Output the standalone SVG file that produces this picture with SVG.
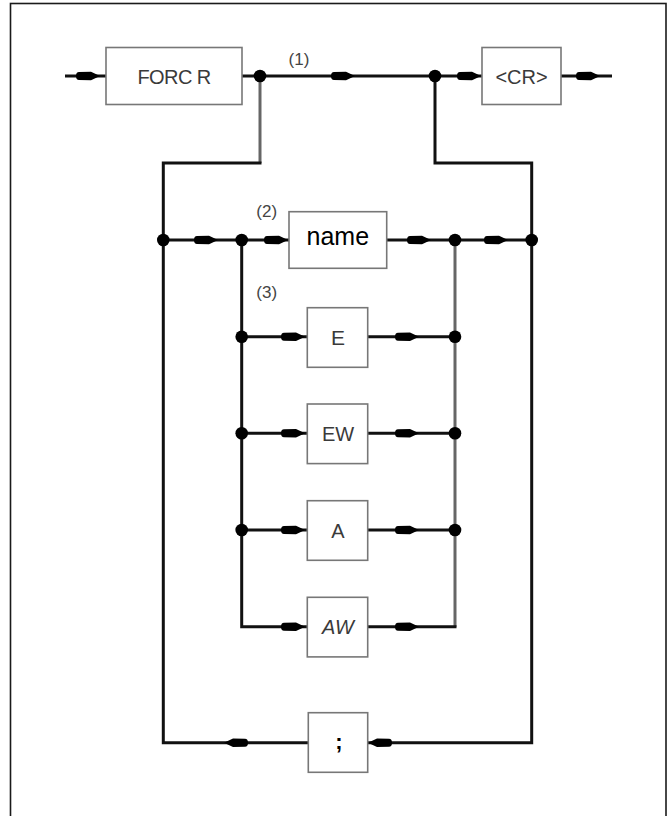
<svg xmlns="http://www.w3.org/2000/svg" xmlns:xlink="http://www.w3.org/1999/xlink" width="668" height="816" viewBox="0 0 668 816">
<style>
.frame{fill:none;stroke:#1a1a1a;stroke-width:1.6}
.box{fill:#fff;stroke:#777;stroke-width:1.6}
.ln{fill:none;stroke:#111;stroke-width:3}
.lg{fill:none;stroke:#666;stroke-width:3}
.dot{fill:#000}
.ah{fill:#000}
.t{font-family:"Liberation Sans",Arial,sans-serif;text-anchor:middle;fill:#3a3a3a}
.tb{font-family:"Liberation Sans",Arial,sans-serif;text-anchor:middle;fill:#000}
.lbl{font-family:"Liberation Sans",Arial,sans-serif;text-anchor:middle;fill:#444;font-size:17px}
</style>
<defs>
<path id="ah" d="M0,0 L-9,-4.2 L-21,-4 Q-24,-4 -24,0 Q-24,4 -21,4 L-9,4.2 Z"/>
</defs>
<rect class="frame" x="10.5" y="3.5" width="655.5" height="830"/>

<g id="connectors">
<!-- top row -->
<path class="ln" d="M65,76 H106"/>
<path class="ln" d="M242,76 H482"/>
<path class="ln" d="M561,76 H612"/>
<path class="lg" d="M260,76 V163"/>
<path class="ln" d="M261.5,163 H163.3 V742.7 H308.3"/>
<path class="ln" d="M435,76 V163 H531.7 V742.7 H367.7"/>
<!-- name row -->
<path class="ln" d="M163.3,240 H289"/>
<path class="ln" d="M386.7,240 H531.7"/>
<!-- inner verticals -->
<path class="ln" d="M241.7,240 V626.7 H307.3"/>
<path class="lg" d="M455,240 V626.7"/>
<path class="ln" d="M456.5,626.7 H367.7"/>
<!-- option rows -->
<path class="ln" d="M241.7,336.7 H307.3 M367.7,336.7 H455"/>
<path class="ln" d="M241.7,433.3 H307.3 M367.7,433.3 H455"/>
<path class="ln" d="M241.7,530 H307.3 M367.7,530 H455"/>
<!-- arrowheads -->
<g class="ah">
<use xlink:href="#ah" transform="translate(100,76)"/>
<use xlink:href="#ah" transform="translate(355,76)"/>
<use xlink:href="#ah" transform="translate(481,76)"/>
<use xlink:href="#ah" transform="translate(600,76)"/>
<use xlink:href="#ah" transform="translate(218,240)"/>
<use xlink:href="#ah" transform="translate(288,240)"/>
<use xlink:href="#ah" transform="translate(431,240)"/>
<use xlink:href="#ah" transform="translate(508,240)"/>
<use xlink:href="#ah" transform="translate(305,336.7)"/>
<use xlink:href="#ah" transform="translate(419,336.7)"/>
<use xlink:href="#ah" transform="translate(305,433.3)"/>
<use xlink:href="#ah" transform="translate(419,433.3)"/>
<use xlink:href="#ah" transform="translate(305,530)"/>
<use xlink:href="#ah" transform="translate(419,530)"/>
<use xlink:href="#ah" transform="translate(305,626.7)"/>
<use xlink:href="#ah" transform="translate(419,626.7)"/>
<use xlink:href="#ah" transform="translate(224,742.7) rotate(180)"/>
<use xlink:href="#ah" transform="translate(368,742.7) rotate(180)"/>
</g>
<!-- junction dots -->
<g class="dot">
<circle cx="260" cy="76" r="6.3"/>
<circle cx="435" cy="76" r="6.3"/>
<circle cx="163.3" cy="240" r="6.3"/>
<circle cx="241.7" cy="240" r="6.3"/>
<circle cx="455" cy="240" r="6.3"/>
<circle cx="531.7" cy="240" r="6.3"/>
<circle cx="241.7" cy="336.7" r="6.3"/>
<circle cx="455" cy="336.7" r="6.3"/>
<circle cx="241.7" cy="433.3" r="6.3"/>
<circle cx="455" cy="433.3" r="6.3"/>
<circle cx="241.7" cy="530" r="6.3"/>
<circle cx="455" cy="530" r="6.3"/>
</g>
<text class="lbl" x="299" y="65">(1)</text>
<text class="lbl" x="266.7" y="217">(2)</text>
<text class="lbl" x="266.7" y="298">(3)</text>
</g>

<g id="forcr">
<rect class="box" x="106" y="47.5" width="136" height="57"/>
<text class="t" x="174" y="83.5" font-size="20" letter-spacing="-0.6">FORC R</text>
</g>
<g id="cr">
<rect class="box" x="482" y="47.5" width="79" height="57"/>
<text class="t" x="521.5" y="83.5" font-size="20">&lt;CR&gt;</text>
</g>
<g id="name">
<rect class="box" x="289" y="211.7" width="97.7" height="56.6"/>
<text class="tb" x="337.8" y="245" font-size="25">name</text>
</g>
<g id="e">
<rect class="box" x="307.3" y="307.7" width="60.4" height="59.6"/>
<text class="t" x="338" y="344.5" font-size="21">E</text>
</g>
<g id="ew">
<rect class="box" x="307.3" y="404" width="60.4" height="59.6"/>
<text class="t" x="338" y="441" font-size="20">EW</text>
</g>
<g id="a">
<rect class="box" x="307.3" y="500.7" width="60.4" height="59.6"/>
<text class="t" x="338" y="537.7" font-size="20">A</text>
</g>
<g id="aw">
<rect class="box" x="307.3" y="597.3" width="60.4" height="59.6"/>
<text class="t" x="338" y="634.3" font-size="20" font-style="italic">AW</text>
</g>
<g id="semicolon">
<rect class="box" x="308.3" y="712.7" width="59.4" height="59.6"/>
<text class="tb" x="339" y="749" font-size="22" font-weight="bold">;</text>
</g>
</svg>
